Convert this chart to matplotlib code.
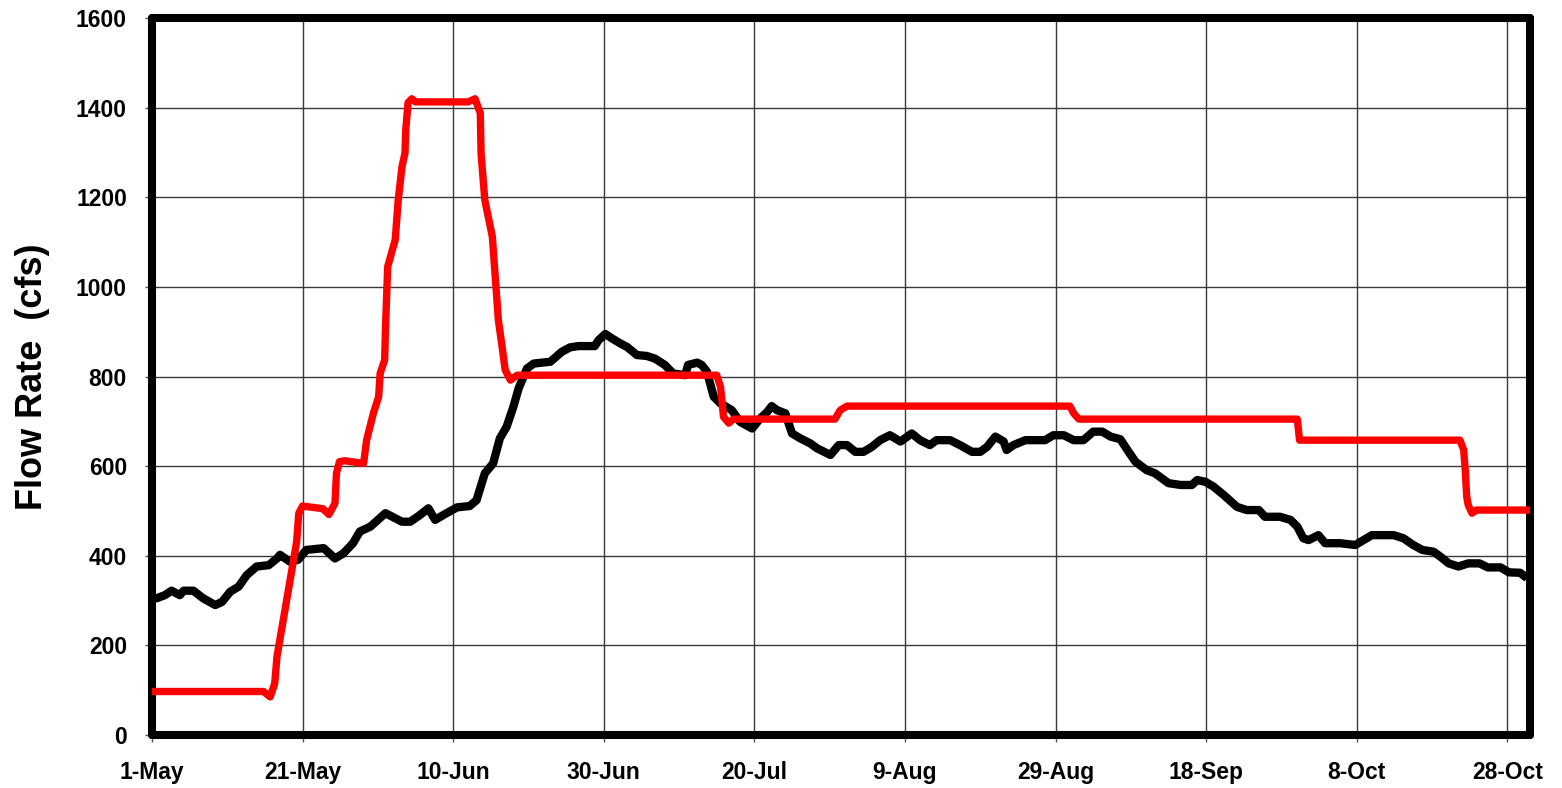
import numpy as np
import matplotlib
matplotlib.use("Agg")
import matplotlib.pyplot as plt

# dias desde el 1 de mayo
tick_days = [0, 20, 40, 60, 80, 100, 120, 140, 160, 180]
tick_labels = ["1-May", "21-May", "10-Jun", "30-Jun", "20-Jul",
               "9-Aug", "29-Aug", "18-Sep", "8-Oct", "28-Oct"]

# caudal medido (linea negra)
black_days = [0, 0.6, 1.7, 2.6, 3.7, 4.2, 5.5, 6.8, 8.4, 9.3, 10.4, 11.5, 12.6,
              13.9, 15.5, 16.6, 17.0, 18.3, 19.4, 20.5, 22.8, 24.3, 25.4, 26.7,
              27.6, 29.0, 31.0, 33.2, 34.3, 35.6, 36.7, 37.6, 38.7, 40.5, 42.2,
              43.1, 44.2, 45.3, 46.2, 47.1, 48.0, 48.7, 49.8, 50.7, 52.9, 54.4,
              55.5, 56.6, 58.8, 59.3, 60.2, 61.1, 62.2, 63.1, 64.4, 65.7, 66.8,
              68.1, 69.2, 70.8, 71.2, 72.4, 73.0, 73.7, 74.6, 75.5, 77.0, 78.1,
              79.7, 80.8, 81.7, 82.3, 83.0, 84.1, 85.0, 86.1, 87.4, 88.3, 90.1,
              91.2, 92.3, 93.4, 94.5, 95.6, 96.7, 98.0, 99.4, 100.9, 102.0,
              103.3, 104.2, 106.0, 107.3, 108.9, 110.0, 110.9, 112.0, 113.1,
              113.5, 114.4, 116.0, 118.6, 119.7, 121.1, 122.4, 123.7, 125.0,
              126.2, 127.3, 128.6, 129.7, 130.6, 132.1, 133.2, 135.0, 136.6,
              138.1, 138.8, 139.9, 141.0, 142.3, 144.1, 145.4, 147.0, 147.8,
              149.8, 151.2, 152.1, 152.9, 153.6, 154.9, 155.8, 157.8, 159.8,
              160.9, 162.0, 164.9, 166.2, 167.5, 168.7, 170.2, 171.1, 172.2,
              173.5, 174.8, 176.3, 177.4, 179.1, 180.2, 181.7, 182.6]
black_flow = [305, 305, 312, 322, 312, 322, 322, 305, 290, 297, 320, 331, 357,
              376, 379, 394, 402, 387, 391, 413, 417, 394, 405, 428,
              454, 465, 495, 476, 476, 491, 506, 480, 491, 508, 511,
              524, 584, 606, 662, 688, 733, 774, 818, 829, 833, 855,
              865, 868, 868, 881, 895, 885, 874, 866, 848, 846, 840,
              826, 807, 803, 826, 831, 826, 811, 755, 740, 725, 699,
              684, 707, 721, 734, 725, 718, 673, 662, 651, 640, 625,
              647, 647, 632, 632, 643, 658, 669, 655, 673, 658,
              647, 658, 658, 647, 632, 632, 643, 666, 655,
              636, 647, 658, 658, 669, 669, 658, 658, 677,
              677, 666, 660, 632, 610, 591, 584, 562, 558,
              558, 569, 565, 554, 536, 509, 502, 502, 487,
              487, 480, 465, 439, 435, 446, 428, 428, 424,
              435, 446, 446, 439, 424, 413, 409, 398, 383,
              376, 383, 383, 374, 374, 363, 362, 350]

# caudal de referencia (linea roja)
red_days = [0, 14.8, 15.7, 16.3, 16.6, 19.2, 19.5, 20.0, 22.7, 23.5, 24.3, 24.5,
            24.9, 25.6, 28.1, 28.5, 29.4, 30.1, 30.3, 30.9, 31.0, 31.3, 32.3,
            32.7, 33.2, 33.6, 33.7, 34.0, 34.5, 35.0, 42.0, 42.9, 43.6, 43.7,
            44.2, 45.2, 46.0, 46.5, 46.9, 47.6, 48.5, 75.0, 75.5, 75.9, 76.6,
            77.2, 90.7, 91.4, 92.3, 121.9, 122.4, 123.1, 152.1, 152.4, 173.7,
            174.2, 174.4, 174.6, 174.8, 175.3, 175.9, 183]
red_flow = [97, 97, 85, 115, 175, 430, 495, 511, 505, 492, 517, 584,
            610, 612, 606, 658, 718, 755, 807, 837, 904, 1045, 1105,
            1194, 1268, 1299, 1350, 1411, 1420, 1413, 1413, 1420, 1388, 1299,
            1194, 1112, 926, 866, 815, 792, 803, 803, 777, 710, 696,
            705, 705, 725, 734, 734, 718, 705, 705, 658, 658,
            636, 591, 532, 513, 495, 502, 502]

fig = plt.figure(figsize=(15.62, 7.88), dpi=100)
ax = fig.add_axes([0.0973, 0.0673, 0.8822, 0.9097])

ax.plot(black_days, black_flow, color="black", lw=6.0,
        solid_joinstyle="round", solid_capstyle="butt", zorder=3)
ax.plot(red_days, red_flow, color="#ff0000", lw=5.3,
        solid_joinstyle="round", solid_capstyle="round", zorder=4)

ax.set_xlim(0, 183)
ax.set_ylim(0, 1600)
ax.set_xticks(tick_days)
ax.set_xticklabels(tick_labels)
ax.set_yticks(np.arange(0, 1601, 200))

ax.grid(True, color="#3a3a3a", lw=1.0)
ax.set_axisbelow(True)

for s in ax.spines.values():
    s.set_linewidth(5.8)
    s.set_capstyle("round")

ax.tick_params(axis="both", direction="out", length=5, width=1, color="#555555")
ax.tick_params(axis="x", pad=14)
ax.tick_params(axis="y", pad=13)
for lbl in ax.get_xticklabels() + ax.get_yticklabels():
    lbl.set_fontfamily("Liberation Sans")
    lbl.set_fontweight("bold")
    lbl.set_fontsize(16.5)

ax.set_ylabel("Flow Rate  (cfs)", fontfamily="Liberation Sans",
              fontweight="bold", fontsize=26, va="center")
ax.yaxis.set_label_coords(-0.0864, 0.5)

fig.savefig("out.png", dpi=100)
